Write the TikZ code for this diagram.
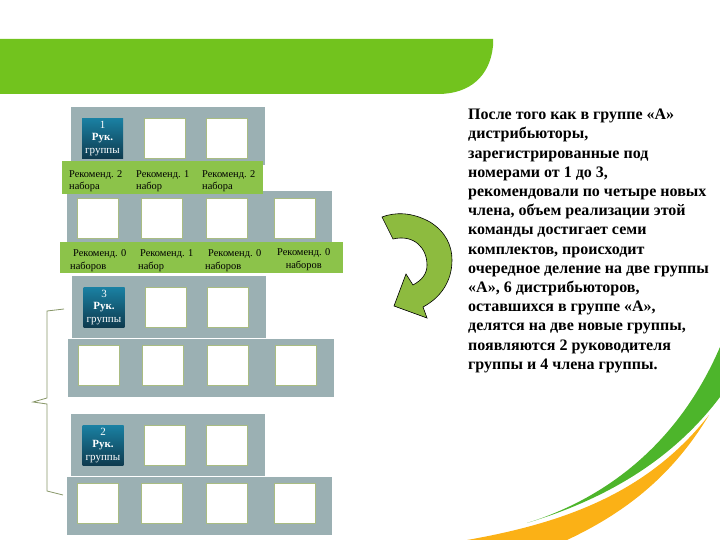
\documentclass[tikz,border=0pt]{standalone}
\usepackage{fontspec}
\setmainfont{Liberation Serif}
\usetikzlibrary{arrows}

\begin{document}
\begin{tikzpicture}[x=1pt,y=-1pt,node distance=62pt]
  \definecolor{banner}{HTML}{72C31E}
  \definecolor{panelgrey}{HTML}{9BB0B3}
  \definecolor{bandgreen}{HTML}{8CC34A}
  \definecolor{slotedge}{HTML}{A9BC82}
  \definecolor{headtop}{HTML}{1A80A2}
  \definecolor{headbottom}{HTML}{0E3A4E}
  \definecolor{swooshgreen}{HTML}{4DB52B}
  \definecolor{swooshorange}{HTML}{FBB116}
  \definecolor{turnarrow}{HTML}{8DBB3F}
  \tikzstyle{panel}=[fill=panelgrey,inner sep=0pt,anchor=north west]
  \tikzstyle{band}=[fill=bandgreen,inner sep=0pt,anchor=north west]
  \tikzstyle{slot}=[fill=white,draw=slotedge,line width=0.5pt,inner sep=0pt,minimum width=41pt,minimum height=40pt]
  \tikzstyle{head}=[slot,draw=none,top color=headtop,bottom color=headbottom,text=white,align=center,
                    font=\fontsize{11}{12.5}\selectfont]
  \tikzstyle{tag}=[inner sep=0pt,anchor=north west,align=left,font=\fontsize{10.4}{12.5}\selectfont]
  \useasboundingbox (0,0) rectangle (720,540);

  \fill[banner] (0,39) -- (493,39) -- (493,46) .. controls (490,76) and (470,94) .. (438,94) -- (0,94) -- cycle;
  \fill[swooshgreen] (527,523) .. controls (610,497) and (680,440) .. (720,347) -- (720,397)
        .. controls (680,450) and (620,495) .. (527,523) -- cycle;
  \fill[swooshorange] (467,540) .. controls (570,522) and (650,490) .. (709,415)
        .. controls (670,480) and (620,515) .. (567,540) -- cycle;

  \node[panel,minimum width=194pt,minimum height=58pt] (P1) at (71,107) {};
  \node[head]                          (H1) at (102.5,138.5) {1\\\textbf{Рук.}\\группы};
  \node[slot]                          (S12) at (164.5,138) {};
  \node[slot]                          (S13) [right of=S12] {};

  \node[panel,minimum width=265pt,minimum height=54pt] (P2) at (67,191) {};
  \node[slot]                          (S21) at (97.5,218) {};
  \node[slot,node distance=64pt]       (S22) [right of=S21] {};
  \node[slot,node distance=65pt]       (S23) [right of=S22] {};
  \node[slot,node distance=68pt]       (S24) [right of=S23] {};

  \node[band,minimum width=201pt,minimum height=33pt] (B1) at (62,161) {};
  \node[tag] (T11) at (69,170)  {Рекоменд. 2\\набора};
  \node[tag] (T12) at (136,170) {Рекоменд. 1\\набор};
  \node[tag] (T13) at (202,170) {Рекоменд. 2\\набора};

  \node[band,minimum width=283pt,minimum height=31pt] (B2) at (60,242) {};
  \node[tag] (T21) at (70,249.5)  {\hspace*{3pt}Рекоменд. 0\\наборов};
  \node[tag] (T22) at (138,249.5) {\hspace*{2pt}Рекоменд. 1\\набор};
  \node[tag] (T23) at (205,249.5) {\hspace*{3pt}Рекоменд. 0\\наборов};
  \node[tag,align=center] (T24) at (277,248.5) {Рекоменд. 0\\наборов};

  \node[panel,minimum width=194pt,minimum height=62pt] (P3) at (72,276) {};
  \node[head]                          (H3) at (104,307.5) {3\\\textbf{Рук.}\\группы};
  \node[slot]                          (S32) at (165.5,307) {};
  \node[slot]                          (S33) [right of=S32] {};

  \node[panel,minimum width=266pt,minimum height=58pt] (P4) at (68,339) {};
  \node[slot]                          (S41) at (98.5,365.5) {};
  \node[slot,node distance=64pt]       (S42) [right of=S41] {};
  \node[slot,node distance=65pt]       (S43) [right of=S42] {};
  \node[slot,node distance=68pt]       (S44) [right of=S43] {};

  \node[panel,minimum width=194pt,minimum height=62pt] (P5) at (71,414) {};
  \node[head]                          (H2) at (103,445.5) {2\\\textbf{Рук.}\\группы};
  \node[slot]                          (S52) at (164.5,445) {};
  \node[slot]                          (S53) [right of=S52] {};

  \node[panel,minimum width=265pt,minimum height=58pt] (P6) at (67,477) {};
  \node[slot]                          (S61) at (97.5,503.5) {};
  \node[slot,node distance=64pt]       (S62) [right of=S61] {};
  \node[slot,node distance=65pt]       (S63) [right of=S62] {};
  \node[slot,node distance=68pt]       (S64) [right of=S63] {};

  \coordinate (braceTop) at (64,309);
  \coordinate (braceMid) at (33,402);
  \coordinate (braceEnd) at (63,495);
  \draw[draw=slotedge!80!black,line width=0.8pt] (braceTop) -- (47,311) -- (47,398) -- (braceMid) -- (47,404) -- (47,491) -- (braceEnd);

  \draw[fill=turnarrow,draw=black,line width=0.6pt] (382,217) .. controls (395,212) and (412,212) .. (430,222)
        .. controls (446,232) and (452,246) .. (452,260) .. controls (452,282) and (440,298) .. (423,307)
        -- (427,318) -- (394,306) -- (406,274) -- (413,285) .. controls (422,280) and (427,274) .. (427,265)
        .. controls (427,248) and (414,234) .. (393,239) -- cycle;

  \node[inner sep=0pt,anchor=north west,align=left,font=\fontsize{16}{19.2}\selectfont\bfseries] (Note) at (468,109)
    {После того как в группе «А»\\дистрибьюторы,\\зарегистрированные под\\номерами от 1 до 3,\\рекомендовали по четыре новых\\члена, объем реализации этой\\команды достигает семи\\комплектов, происходит\\очередное деление на две группы\\«А», 6 дистрибьюторов,\\оставшихся в группе «А»,\\делятся на две новые группы,\\появляются 2 руководителя\\группы и 4 члена группы.};
\end{tikzpicture}
\end{document}
